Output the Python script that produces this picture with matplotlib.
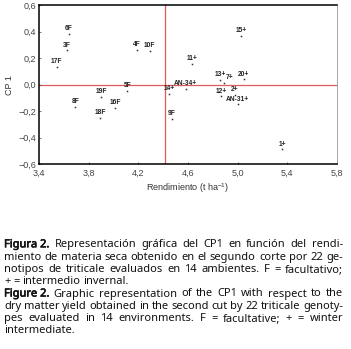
"""
CP1 vs dry matter yield (second cut), 22 triticale genotypes, with caption.
"""

import matplotlib

matplotlib.use("Agg")
import matplotlib.pyplot as plt
import matplotlib.patheffects as pe
import numpy as np
from matplotlib import font_manager

# Genotypes, yield (t/ha) and CP1 scores
genotypes = ["6F", "3F", "17F", "4F", "10F", "5F", "19F", "8F", "16F", "18F", "9F",
             "14+", "15+", "11+", "AN-34+", "13+", "7+", "20+", "12+", "2+", "AN-31+", "1+"]
yield_t = [3.64, 3.62, 3.54, 4.19, 4.29, 4.11, 3.90, 3.69, 4.01, 3.89, 4.47,
           4.45, 5.03, 4.63, 4.58, 4.86, 4.89, 5.05, 4.87, 4.98, 5.00, 5.36]
cp1 = [0.383, 0.258, 0.132, 0.260, 0.255, -0.047, -0.092, -0.167, -0.177, -0.248, -0.258,
       -0.069, 0.368, 0.157, -0.032, 0.036, 0.014, 0.039, -0.089, -0.079, -0.149, -0.487]

x_ticks = [3.4, 3.8, 4.2, 4.6, 5.0, 5.4, 5.8]
y_ticks = [-0.6, -0.4, -0.2, 0.0, 0.2, 0.4, 0.6]

# caption lines: figure tag (bold), body text, justified or not
caption = [
    ("Figura 2.", "Representación gráfica del CP1 en función del rendi-", True),
    ("", "miento de materia seca obtenido en el segundo corte por 22 ge-", True),
    ("", "notipos de triticale evaluados en 14 ambientes. F = facultativo;", True),
    ("", "+ = intermedio invernal.", False),
    ("Figure 2.", "Graphic representation of the CP1 with respect to the", True),
    ("", "dry matter yield obtained in the second cut by 22 triticale genoty-", True),
    ("", "pes evaluated in 14 environments. F = facultative; + = winter", True),
    ("", "intermediate.", False),
]

# small nudges for crowded labels (points)
label_nudge = {"7+": (4, 0)}

plt.rcParams["mathtext.fontset"] = "custom"
plt.rcParams["mathtext.rm"] = "Liberation Sans"

W, H = 351, 349
fig = plt.figure(figsize=(W / 100, H / 100), dpi=100)
fig.patch.set_facecolor("white")

ax = fig.add_axes([39.3 / W, 1 - 164.3 / H, (336.7 - 39.3) / W, (164.3 - 5) / H])

# reference lines: mean yield and CP1 = 0
ax.axvline(np.mean(yield_t), color="#e05a5a", lw=0.9, zorder=1)
ax.axhline(0, color="#e05a5a", lw=0.9, zorder=1)

ax.plot(yield_t, cp1, "s", ms=1.1, color="#333333", mew=0, zorder=3)
for name, xv, yv in zip(genotypes, yield_t, cp1):
    dx, dy = label_nudge.get(name, (0, 0))
    ax.annotate(name, (xv, yv), xytext=(dx, 2.7 + dy), textcoords="offset points",
                ha="center", va="baseline", fontsize=4.8, fontweight="bold",
                family="Liberation Sans", color="#222222")

ax.set_xlim(3.4, 5.8)
ax.set_ylim(-0.6, 0.6)
ax.set_xticks(x_ticks)
ax.set_yticks(y_ticks)
ax.set_xticklabels([f"{v:.1f}".replace(".", ",") for v in x_ticks])
ax.set_yticklabels([f"{v:.1f}".replace(".", ",").replace("-", "\u2212") for v in y_ticks])
ax.tick_params(labelsize=6.5, colors="#444444", length=1.5, width=0.5, direction="in")
ax.tick_params(axis="x", pad=3)
ax.tick_params(axis="y", pad=2.2)
for lab in ax.get_xticklabels() + ax.get_yticklabels():
    lab.set_family("Liberation Sans")

for side in ["left", "bottom", "top"]:
    ax.spines[side].set_color("black")
    ax.spines[side].set_linewidth(1.1)
ax.spines["right"].set_color("#999999")
ax.spines["right"].set_linewidth(0.6)

ax.set_xlabel("Rendimiento (t ha$^{-1}$)", fontsize=6.5, family="Liberation Sans",
              color="#333333", labelpad=3)
ax.set_ylabel("CP 1", fontsize=6.5, family="Liberation Sans", color="#333333", labelpad=3)

# caption, justified like the journal text
FS = 8.0
FAMILY = "Noto Sans"
bold_path = font_manager.findfont(
    font_manager.FontProperties(family=FAMILY, weight="bold", stretch="normal"))
has_bold = "bold" in bold_path.lower() and "cjk" not in bold_path.lower()
left_px, right_px = 4.0, 343.0
base0, step = 247.3, 12.3
renderer = fig.canvas.get_renderer()


def make_text(x, y, s, weight):
    kw = dict(fontsize=FS, family=FAMILY, fontstretch="normal", va="baseline",
              ha="left", color="#111111")
    if weight == "bold":
        if has_bold:
            kw["fontweight"] = "bold"
        else:
            kw["path_effects"] = [pe.withStroke(linewidth=0.45, foreground="#111111")]
    return fig.text(x, y, s, **kw)


def text_width(s, weight="normal"):
    t = make_text(0, 0, s, weight)
    w = t.get_window_extent(renderer).width
    t.remove()
    return w


space_w = text_width("a a", "normal") - text_width("aa", "normal")

for i, (tag, body, justify) in enumerate(caption):
    y_fig = 1 - (base0 + i * step) / H
    words = ([(tag, "bold")] if tag else []) + [(w, "normal") for w in body.split(" ")]
    widths = [text_width(w, wt) for w, wt in words]
    if justify and len(words) > 1:
        gap = (right_px - left_px - sum(widths)) / (len(words) - 1)
    else:
        gap = space_w
    xpos = left_px
    for (w, wt), ww in zip(words, widths):
        make_text(xpos / W, y_fig, w, wt)
        xpos += ww + gap

fig.savefig("out.png", dpi=100)
